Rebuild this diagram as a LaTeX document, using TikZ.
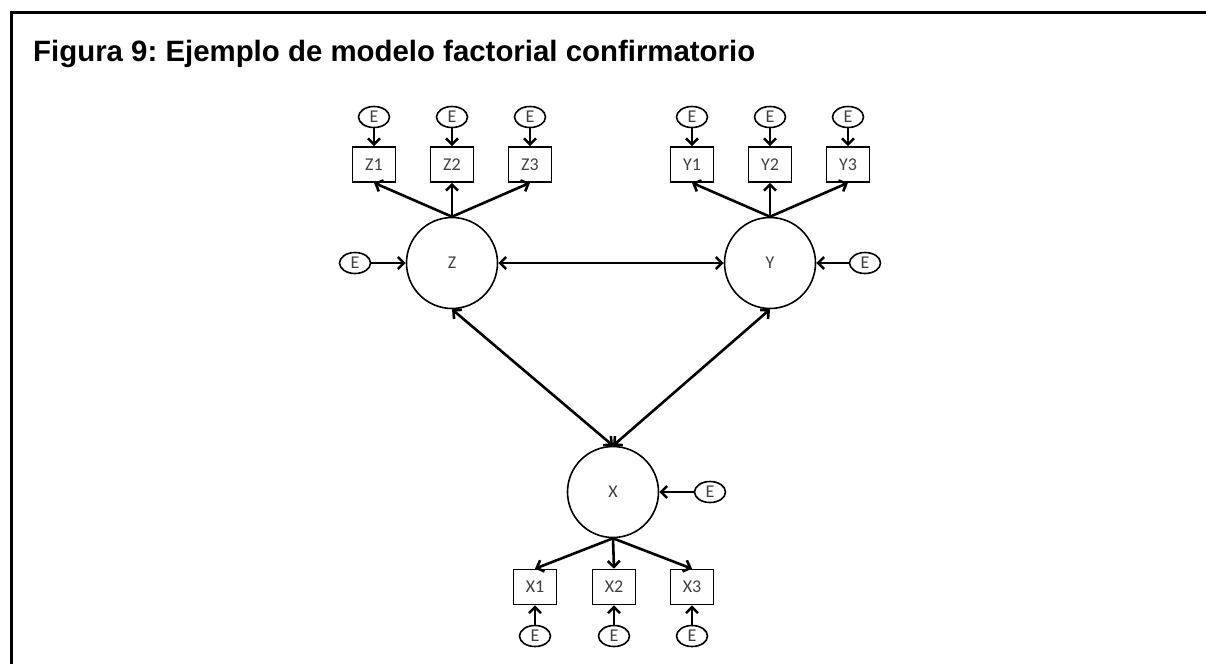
\documentclass[tikz,border=0pt]{standalone}
\usepackage{fontspec}
\setmainfont{Liberation Sans}
\newfontfamily\nodefont{Carlito}
\usetikzlibrary{arrows.meta,shapes.geometric}
\tikzset{
  lbl/.style={font=\nodefont\fontsize{18}{18}\selectfont,text=black!75},
  latent/.style={lbl,circle,draw,line width=1.6pt,minimum size=91pt,inner sep=0pt},
  obs/.style={lbl,rectangle,draw,line width=1.6pt,minimum width=43pt,minimum height=35pt,inner sep=0pt},
  err/.style={lbl,ellipse,draw,line width=1.6pt,minimum width=31pt,minimum height=21pt,inner sep=0pt},
  arr/.style={line width=2.6pt,-{Straight Barb[length=6pt,width=12pt]}},
  darr/.style={line width=2.6pt,{Straight Barb[length=6pt,width=12pt]}-{Straight Barb[length=6pt,width=12pt]}},
}
\begin{document}
\frenchspacing
\begin{tikzpicture}[x=1pt,y=-1pt]
\useasboundingbox (0,0) rectangle (1206,664);
\fill[white] (0,0) rectangle (1206,664);
\draw[line width=3pt] (11,664) -- (11,12) -- (1206,12);
\node[anchor=base west,inner sep=0pt,font=\bfseries\fontsize{29.4}{29.4}\selectfont] (title) at (33,61) {Figura 9: Ejemplo de modelo factorial confirmatorio};

% latent variables
\node[latent] (Z) at (452,263) {Z};
\node[latent] (Y) at (770,263) {Y};
\node[latent] (X) at (613,492) {X};

% observed
\node[obs] (Z1) at (374,164.5) {Z1};
\node[obs] (Z2) at (452,164.5) {Z2};
\node[obs] (Z3) at (530,164.5) {Z3};
\node[obs] (Y1) at (692,164.5) {Y1};
\node[obs] (Y2) at (770,164.5) {Y2};
\node[obs] (Y3) at (848,164.5) {Y3};
\node[obs] (X1) at (535,587) {X1};
\node[obs] (X2) at (614,587) {X2};
\node[obs] (X3) at (692,587) {X3};

% errors
\node[err] (eZ1) at (374,117) {E};
\node[err] (eZ2) at (452,117) {E};
\node[err] (eZ3) at (530,117) {E};
\node[err] (eY1) at (692,117) {E};
\node[err] (eY2) at (770,117) {E};
\node[err] (eY3) at (848,117) {E};
\node[err] (eX1) at (535,636) {E};
\node[err] (eX2) at (614,636) {E};
\node[err] (eX3) at (692,636) {E};
\node[err] (eZ) at (355,263) {E};
\node[err] (eY) at (865,263) {E};
\node[err] (eX) at (710,492) {E};

% error arrows
\foreach \v in {Z1,Z2,Z3,Y1,Y2,Y3}{\draw[arr] (e\v.south) -- (\v.north);}
\foreach \v in {X1,X2,X3}{\draw[arr] (e\v.north) -- (\v.south);}
\draw[arr] (eZ.east) -- (Z.west);
\draw[arr] (eY.west) -- (Y.east);
\draw[arr] (eX.west) -- (X.east);

% loadings
\foreach \v in {Z1,Z2,Z3}{\draw[arr] (Z.north) -- (\v.south);}
\foreach \v in {Y1,Y2,Y3}{\draw[arr] (Y.north) -- (\v.south);}
\foreach \v in {X1,X2,X3}{\draw[arr] (X.south) -- (\v.north);}

% covariances
\draw[darr] (Z.east) -- (Y.west);
\draw[darr] (Z.south) -- (X.north);
\draw[darr] (Y.south) -- (X.north);
\end{tikzpicture}
\end{document}
